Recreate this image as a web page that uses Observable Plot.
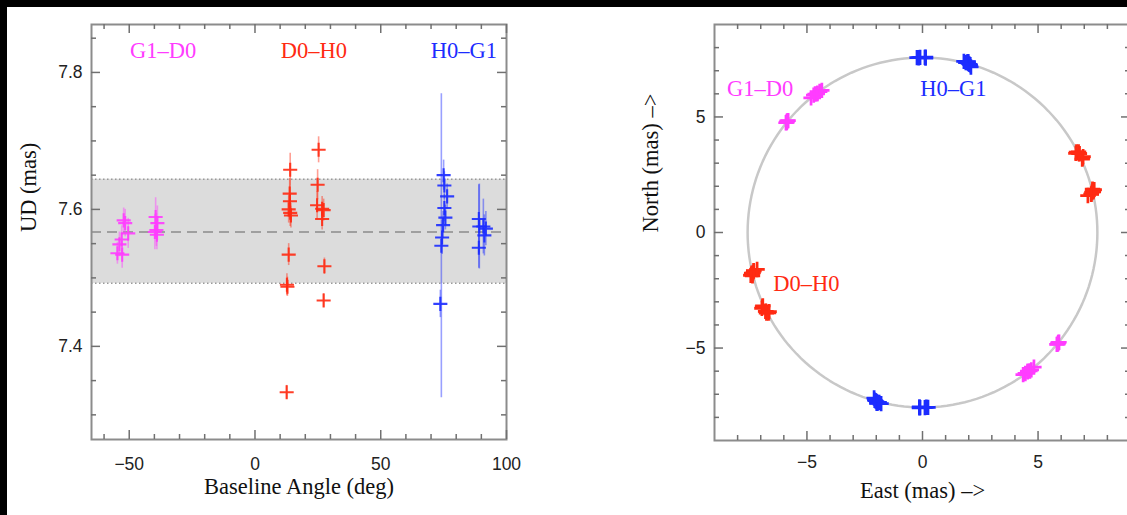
<!DOCTYPE html>
<html><head><meta charset="utf-8">
<script src="https://cdn.jsdelivr.net/npm/d3@7"></script>
<script src="https://cdn.jsdelivr.net/npm/@observablehq/plot@0.6"></script>
<style>
html,body{margin:0;padding:0;background:#fff;width:1127px;height:515px;overflow:hidden;position:relative}
.blk{position:absolute;background:#000;z-index:5}
#left,#right{position:absolute;top:0}
#left{left:0;width:560px}
#right{left:560px;width:580px}
#left svg,#right svg{max-width:none !important}
</style></head><body>
<div class="blk" style="left:0;top:0;width:1127px;height:7px"></div>
<div class="blk" style="left:0;top:0;width:7px;height:515px"></div>
<div id="left"></div><div id="right"></div>
<script>
// ---------- data ----------
const baselines = ["G1–D0", "D0–H0", "H0–G1"];
const colors = ["#ff3cff", "#ff2a12", "#1c2cff"];

const g1d0Angle = [-51.6, -52.2, -50.4, -53.0, -53.9, -54.7, -52.8, -39.5, -38.8, -39.2, -39.8, -39.0];
const g1d0UD    = [7.580, 7.584, 7.565, 7.556, 7.549, 7.536, 7.534, 7.589, 7.580, 7.570, 7.567, 7.563];
const g1d0Err   = [0.020, 0.018, 0.022, 0.020, 0.018, 0.016, 0.020, 0.028, 0.025, 0.024, 0.026, 0.022];

const d0h0Angle = [14.0, 13.8, 13.4, 14.3, 14.0, 13.9, 13.4, 12.7, 12.9, 12.6, 25.3, 24.9, 24.7, 26.7, 27.3, 26.7, 27.6, 27.3];
const d0h0UD    = [7.658, 7.623, 7.600, 7.591, 7.595, 7.612, 7.534, 7.490, 7.487, 7.333, 7.687, 7.636, 7.606, 7.601, 7.599, 7.586, 7.517, 7.467];
const d0h0Err   = [0.024, 0.022, 0.020, 0.018, 0.020, 0.022, 0.016, 0.016, 0.014, 0.010, 0.019, 0.022, 0.020, 0.018, 0.016, 0.016, 0.012, 0.010];

const h0g1Angle = [75.0, 75.3, 76.4, 75.3, 75.7, 74.8, 74.4, 74.1, 73.7, 89.0, 89.2, 90.8, 91.8, 91.2, 89.0];
const h0g1UD    = [7.650, 7.635, 7.619, 7.602, 7.588, 7.577, 7.559, 7.547, 7.462, 7.586, 7.575, 7.575, 7.572, 7.562, 7.544];
const h0g1Err   = [0.022, 0.020, 0.018, 0.020, 0.018, 0.020, 0.025, 0.222, 0.020, 0.050, 0.062, 0.040, 0.025, 0.030, 0.030];

const meanUD = 7.567;
const bandLow = 7.492;
const bandHigh = 7.644;

// labels
const labelAngle = [-36.5, 23.4, 83.1];
const labelUD = 7.832;
const labelEast = [-7.03, -5.02, 1.34];
const labelNorth = [6.23, -2.2, 6.23];

// ticks
const leftXMajor = [-50, 0, 50, 100];
const leftXMinor = [-60, -40, -30, -20, -10, 10, 20, 30, 40, 60, 70, 80, 90];
const leftYMajor = [7.4, 7.6, 7.8];
const leftYMinor = [7.30, 7.35, 7.45, 7.50, 7.55, 7.65, 7.70, 7.75, 7.85];
const rightMajor = [-5, 0, 5];
const rightMinor = [-8, -7, -6, -4, -3, -2, -1, 1, 2, 3, 4, 6, 7, 8];

const xTitleL = "Baseline Angle (deg)";
const yTitleL = "UD (mas)";
const xTitleR = "East (mas) –>";
const yTitleR = "North (mas) –>";

// ---------- tables ----------
const series = [[g1d0Angle, g1d0UD, g1d0Err], [d0h0Angle, d0h0UD, d0h0Err], [h0g1Angle, h0g1UD, h0g1Err]];
const rows = [];
series.forEach(([a, u, e], k) => a.forEach((v, i) => rows.push({base: baselines[k], angle: v, ud: u[i], err: e[i]})));
// projection of each measurement on the sky (both ends of the baseline)
const sky = [];
rows.forEach(d => [1, -1].forEach(s => sky.push({base: d.base,
  east: s * d.ud * Math.cos(d.angle * Math.PI / 180),
  north: s * d.ud * Math.sin(d.angle * Math.PI / 180)})));
const circle = d3.range(0, 361, 2).map(t => ({east: meanUD * Math.cos(t * Math.PI / 180), north: meanUD * Math.sin(t * Math.PI / 180)}));
const labelsL = baselines.map((b, i) => ({base: b, angle: labelAngle[i], ud: labelUD}));
const labelsR = baselines.map((b, i) => ({base: b, east: labelEast[i], north: labelNorth[i]}));

const SANS = "'Liberation Sans', Arial, Helvetica, sans-serif";
const SERIF = "'Liberation Serif', 'Times New Roman', serif";
const SERIF_SIZE = 22.5;
const TICK = "#707070";
const FRAME = "#8c8c8c";
const color = {domain: baselines, range: colors};

function frameTicks(xMaj, xMin, yMaj, yMin, iw, ih) {
  const big = 9, small = 5;
  const m = [];
  for (const [vals, len] of [[xMaj, big], [xMin, small]]) {
    m.push(Plot.tickX(vals, {x: d => d, insetTop: ih - len, stroke: TICK, strokeWidth: 1.5}));
    m.push(Plot.tickX(vals, {x: d => d, insetBottom: ih - len, stroke: TICK, strokeWidth: 1.5}));
  }
  for (const [vals, len] of [[yMaj, big], [yMin, small]]) {
    m.push(Plot.tickY(vals, {y: d => d, insetRight: iw - len, stroke: TICK, strokeWidth: 1.5}));
    m.push(Plot.tickY(vals, {y: d => d, insetLeft: iw - len, stroke: TICK, strokeWidth: 1.5}));
  }
  return m;
}

// ---------- left panel ----------
const L = {w: 560, h: 515, ml: 91, mr: 54, mt: 24, mb: 76};
const left = Plot.plot({
  width: L.w, height: L.h,
  marginLeft: L.ml, marginRight: L.mr, marginTop: L.mt, marginBottom: L.mb,
  style: {background: "transparent", fontFamily: SANS, fontSize: "17.5px", color: "#222", maxWidth: "none"},
  x: {domain: [-65, 100]},
  y: {domain: [7.264, 7.870]},
  color,
  marks: [
    Plot.rect([0], {x1: -65, x2: 100, y1: bandLow, y2: bandHigh, fill: "#dcdcdc"}),
    Plot.ruleY([bandLow, bandHigh], {stroke: "#999", strokeWidth: 1.5, strokeDasharray: "1.5,2.5"}),
    Plot.ruleY([meanUD], {stroke: "#8a8a8a", strokeWidth: 1.5, strokeDasharray: "10,6"}),
    Plot.ruleX(rows, {x: "angle", y1: d => d.ud - d.err, y2: d => d.ud + d.err, stroke: "base", strokeOpacity: 0.45, strokeWidth: 1.6}),
    Plot.dot(rows, {x: "angle", y: "ud", symbol: "plus", r: 4.6, stroke: "base", strokeWidth: 2.1, strokeOpacity: 0.9}),
    Plot.text(labelsL, {x: "angle", y: "ud", text: "base", fill: "base", fontFamily: SERIF, fontSize: SERIF_SIZE}),
    Plot.frame({stroke: FRAME, strokeWidth: 2}),
    ...frameTicks(leftXMajor, leftXMinor, leftYMajor, leftYMinor, L.w - L.ml - L.mr, L.h - L.mt - L.mb),
    Plot.axisX({ticks: leftXMajor, tickSize: 0, tickPadding: 18, label: null, fill: "#222"}),
    Plot.axisY({ticks: leftYMajor, tickSize: 0, tickPadding: 9, tickFormat: ".1f", label: null, fill: "#222"}),
    Plot.text([xTitleL], {frameAnchor: "bottom", dy: 54, text: d => d, fontFamily: SERIF, fontSize: SERIF_SIZE, fill: "#111"}),
    Plot.text([yTitleL], {frameAnchor: "left", dx: -63, rotate: -90, text: d => d, fontFamily: SERIF, fontSize: SERIF_SIZE, fill: "#111"})
  ]
});
document.getElementById("left").appendChild(left);

// ---------- right panel ----------
const R = {w: 580, h: 515, ml: 154, mr: 10, mt: 24, mb: 75};
const right = Plot.plot({
  width: R.w, height: R.h,
  marginLeft: R.ml, marginRight: R.mr, marginTop: R.mt, marginBottom: R.mb,
  style: {background: "transparent", fontFamily: SANS, fontSize: "17.5px", color: "#222", maxWidth: "none"},
  x: {domain: [-9, 9]},
  y: {domain: [-9, 9]},
  color,
  marks: [
    Plot.line(circle, {x: "east", y: "north", stroke: "#c8c8c8", strokeWidth: 2.5}),
    Plot.dot(sky, {x: "east", y: "north", symbol: "plus", r: 5, stroke: "base", strokeWidth: 2.7}),
    Plot.text(labelsR, {x: "east", y: "north", text: "base", fill: "base", fontFamily: SERIF, fontSize: SERIF_SIZE}),
    Plot.frame({stroke: FRAME, strokeWidth: 2}),
    ...frameTicks(rightMajor, rightMinor, rightMajor, rightMinor, R.w - R.ml - R.mr, R.h - R.mt - R.mb),
    Plot.axisX({ticks: rightMajor, tickSize: 0, tickPadding: 15.5, label: null, fill: "#222"}),
    Plot.axisY({ticks: rightMajor, tickSize: 0, tickPadding: 9, label: null, fill: "#222"}),
    Plot.text([xTitleR], {frameAnchor: "bottom", dy: 57, text: d => d, fontFamily: SERIF, fontSize: SERIF_SIZE, fill: "#111"}),
    Plot.text([yTitleR], {frameAnchor: "left", dx: -64, rotate: -90, text: d => d, fontFamily: SERIF, fontSize: SERIF_SIZE, fill: "#111"})
  ]
});
document.getElementById("right").appendChild(right);
</script>
</body></html>
